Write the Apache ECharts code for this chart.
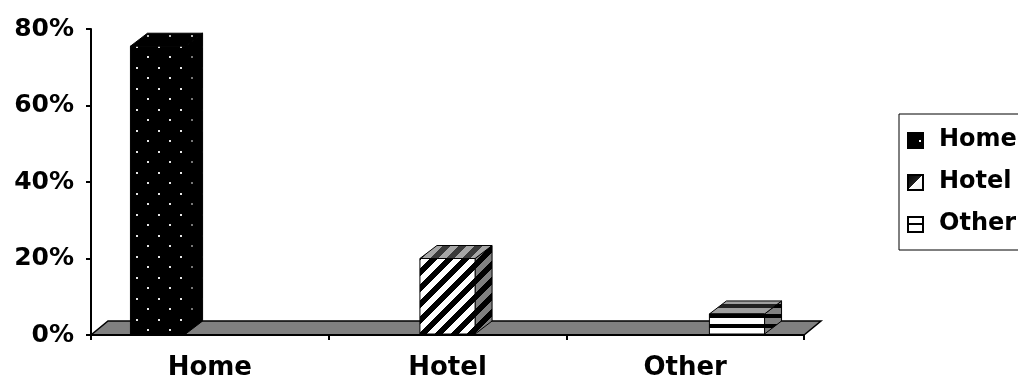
<!DOCTYPE html>
<html><head><meta charset="utf-8">
<script src="https://cdn.jsdelivr.net/npm/echarts@6/dist/echarts.min.js"></script>
<style>html,body{margin:0;padding:0;background:#fff}#c{width:1018px;height:381px}</style>
</head><body><div id="c"></div>
<script>
// ---- data ----
const categories = ['Home', 'Hotel', 'Other'];
const seriesNames = ['Home', 'Hotel', 'Other'];
const homeValues = [75.5, null, null];
const hotelValues = [null, 20, null];
const otherValues = [null, null, 5.5];
const yTickLabels = ['0%', '20%', '40%', '60%', '80%'];

const FONT = 'DejaVu Sans';
const DX = 17, DY = -13;

function makeCanvas(w, h, draw) {
  const c = document.createElement('canvas');
  c.width = w; c.height = h;
  draw(c.getContext('2d'), w, h);
  return c;
}
function hex(c) { return [parseInt(c.substr(1, 2), 16), parseInt(c.substr(3, 2), 16), parseInt(c.substr(5, 2), 16)]; }
function dots(bg, dot) {
  return makeCanvas(22, 21, (g) => {
    g.fillStyle = bg; g.fillRect(0, 0, 22, 21);
    g.fillStyle = dot;
    g.fillRect(4, 4, 2, 2); g.fillRect(15, 14, 2, 2);
  });
}
function diag(bg, line) {
  const P = 16;
  return makeCanvas(P, P, (g) => {
    const img = g.createImageData(P, P);
    const a = hex(bg), b = hex(line);
    for (let y = 0; y < P; y++) for (let x = 0; x < P; x++) {
      const m = (x + y) % P;
      const c = m < 8 ? b : a;
      const i = (y * P + x) * 4;
      img.data[i] = c[0]; img.data[i + 1] = c[1]; img.data[i + 2] = c[2]; img.data[i + 3] = 255;
    }
    g.putImageData(img, 0, 0);
  });
}
function hstripes(bg, line) {
  return makeCanvas(4, 10, (g) => {
    g.fillStyle = bg; g.fillRect(0, 0, 4, 10);
    g.fillStyle = line; g.fillRect(0, 4, 4, 4);
  });
}
const pat = (c) => ({ image: c, repeat: 'repeat' });
const faces = [
  { front: pat(dots('#000000', '#e6e6e6')), top: pat(dots('#000000', '#bbbbbb')), side: pat(dots('#000000', '#777777')) },
  { front: pat(diag('#ffffff', '#000000')), top: pat(diag('#a6a6a6', '#3a3a3a')), side: pat(diag('#808080', '#000000')) },
  { front: pat(hstripes('#ffffff', '#000000')), top: pat(hstripes('#a0a0a0', '#222222')), side: pat(hstripes('#808080', '#000000')) }
];

// legend icons (28x18 canvases, icon drawn in left part)
const iconHome = makeCanvas(28, 18, (g) => {
  g.fillStyle = '#000'; g.fillRect(1, 1, 17, 17);
  g.fillStyle = '#fff'; g.fillRect(13, 9, 2, 2);
});
const iconHotel = makeCanvas(28, 18, (g) => {
  const gr = g.createLinearGradient(1, 1, 18, 18);
  gr.addColorStop(0, '#000'); gr.addColorStop(0.5, '#222'); gr.addColorStop(0.5, '#fff'); gr.addColorStop(1, '#eee');
  g.fillStyle = gr; g.fillRect(1, 1, 17, 17);
  g.strokeStyle = '#000'; g.lineWidth = 2; g.strokeRect(2, 2, 15, 15);
});
const iconOther = makeCanvas(28, 18, (g) => {
  g.fillStyle = '#fff'; g.fillRect(1, 1, 17, 17);
  g.fillStyle = '#000'; g.fillRect(2, 8, 15, 2);
  g.strokeStyle = '#000'; g.lineWidth = 2; g.strokeRect(2, 2, 15, 15);
});
const icons = [iconHome, iconHotel, iconOther];

const valueArrays = [homeValues, hotelValues, otherValues];

function barRender(slot) {
  return function (params, api) {
    const cat = api.value(0), val = api.value(1);
    const band = api.size([1, 0])[0];
    const base = api.coord([cat, 0]);
    const top = api.coord([cat, val]);
    const w = band * 0.232;
    const cx = base[0] + (slot - 1) * band * 0.218;
    const x0 = cx - w / 2, x1 = cx + w / 2;
    const yT = top[1], yB = base[1] - 1;
    const f = faces[slot];
    const st = { stroke: '#000', lineWidth: 1 };
    return {
      type: 'group',
      children: [
        { type: 'polygon', shape: { points: [[x1, yT], [x1 + DX, yT + DY], [x1 + DX, yB + DY], [x1, yB]] },
          style: Object.assign({ fill: f.side }, st) },
        { type: 'polygon', shape: { points: [[x0, yT], [x1, yT], [x1 + DX, yT + DY], [x0 + DX, yT + DY]] },
          style: Object.assign({ fill: f.top }, st) },
        { type: 'rect', shape: { x: x0, y: yT, width: w, height: yB - yT },
          style: Object.assign({ fill: f.front }, st) }
      ]
    };
  };
}

const series = [{
  type: 'custom', name: 'floor', silent: true, clip: false, z: 1,
  data: [[0, 0]],
  renderItem: function (params, api) {
    const cs = params.coordSys;
    const yb = cs.y + cs.height, xl = cs.x, xr = cs.x + cs.width;
    return { type: 'polygon',
      shape: { points: [[xl, yb], [xr, yb], [xr + DX, yb + DY - 1], [xl + DX, yb + DY - 1]] },
      style: { fill: '#808080', stroke: '#000', lineWidth: 1.5 } };
  }
}];
seriesNames.forEach((n, s) => {
  const data = [];
  valueArrays[s].forEach((v, i) => { if (v != null) data.push([i, v]); });
  series.push({ type: 'custom', name: n, clip: false, z: 3, data: data,
    itemStyle: { color: s === 0 ? '#000' : (s === 1 ? '#777' : '#fff') },
    renderItem: barRender(s) });
});

const chart = echarts.init(document.getElementById('c'), null, { renderer: 'canvas' });
chart.setOption({
  animation: false,
  backgroundColor: '#fff',
  grid: { left: 91, right: 214, top: 29, bottom: 45 },
  legend: {
    orient: 'vertical', left: 899, top: 114,
    padding: [13, 12, 13, 7],
    itemWidth: 28, itemHeight: 18, itemGap: 16,
    borderColor: '#000', borderWidth: 1, backgroundColor: '#fff',
    textStyle: { fontFamily: FONT, fontWeight: 'bold', fontSize: 24, color: '#000', lineHeight: 26 },
    data: seriesNames.map((n, i) => ({ name: n, icon: 'image://' + icons[i].toDataURL() }))
  },
  xAxis: {
    type: 'category', data: categories,
    axisLine: { lineStyle: { color: '#000', width: 2 } },
    axisTick: { show: true, length: 5, lineStyle: { color: '#000', width: 2 } },
    axisLabel: { margin: 20, fontFamily: FONT, fontWeight: 'bold', fontSize: 26, color: '#000' },
    splitLine: { show: false }, z: 5
  },
  yAxis: {
    type: 'value', min: 0, max: 80, interval: 20,
    axisLine: { show: true, lineStyle: { color: '#000', width: 2 } },
    axisTick: { show: true, length: 5, lineStyle: { color: '#000', width: 2 } },
    axisLabel: { margin: 17, fontFamily: FONT, fontWeight: 'bold', fontSize: 25, color: '#000',
      formatter: (v) => yTickLabels[Math.round(v / 20)] },
    splitLine: { show: false }
  },
  series: series
});
</script></body></html>
